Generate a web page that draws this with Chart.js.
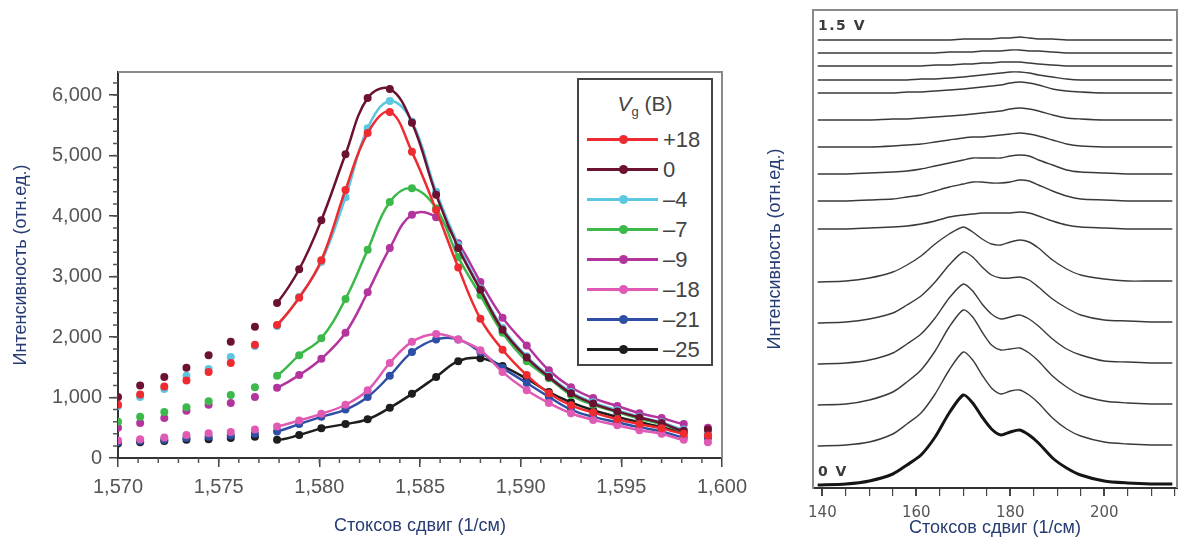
<!DOCTYPE html>
<html>
<head>
<meta charset="utf-8">
<script src="https://cdn.jsdelivr.net/npm/chart.js@4.4.1/dist/chart.umd.min.js"></script>
<style>
    body { margin: 0; background: #fff; }
    #page { position: relative; width: 1192px; height: 543px; overflow: hidden; }
    #leftBox { position: absolute; left: 0; top: 0; width: 760px; height: 543px; }
    #rightBox { position: absolute; left: 760px; top: 0; width: 432px; height: 543px; }
    .legend {
        position: absolute; left: 577px; top: 78px; width: 132px; height: 284px;
        border: 2px solid #454545; background: #fff;
        font-family: 'Liberation Sans Narrow', 'Liberation Sans', Arial, sans-serif; color: #444;
    }
    .legend-title { position: absolute; left: 0; width: 100%; top: 12px; text-align: center; font-size: 21px; }
    .legend-title sub { font-size: 13px; }
    .legend-row { position: absolute; left: 0; width: 100%; height: 30px; }
    .legend-line { position: absolute; left: 8px; width: 71px; top: 13px; height: 3px; }
    .legend-dot { position: absolute; left: 40px; top: 10px; width: 9px; height: 9px; border-radius: 50%; }
    .legend-label { position: absolute; left: 84px; top: 2px; font-size: 22px; }
    .volt { position: absolute; font-family: 'DejaVu Sans', sans-serif; font-size: 14px; font-weight: bold; color: #3a3a3a; letter-spacing: 1.5px; }
</style>
</head>
<body>
<div id="page">
    <div id="leftBox"><canvas id="ramanChart" width="760" height="543"></canvas></div>
    <div id="rightBox"><canvas id="stackChart" width="432" height="543"></canvas></div>
    <div class="legend" id="legend"></div>
    <span class="volt" style="left:818px; top:17px;">1.5 V</span>
    <span class="volt" style="left:818px; top:463px;">0 V</span>
</div>
<script>
// Left panel: Raman shift positions of the measured points (1/см)
const shiftX = [1570.0, 1571.1, 1572.3, 1573.4, 1574.5, 1575.6, 1576.8, 1577.9, 1579.0, 1580.1,
    1581.3, 1582.4, 1583.5, 1584.6, 1585.8, 1586.9, 1588.0, 1589.1, 1590.3, 1591.4,
    1592.5, 1593.6, 1594.8, 1595.9, 1597.0, 1598.1, 1599.3];

// Intensity for each gate voltage
const vgPlus18 = [880, 1050, 1180, 1280, 1420, 1570, 1870, 2200, 2650, 3270, 4430, 5370, 5720, 5060, 4100, 3150, 2300, 1790, 1370, 1070, 870, 750, 640, 560, 490, 400, 370];
const vgZero = [1010, 1200, 1340, 1490, 1700, 1920, 2170, 2560, 3120, 3930, 5020, 5950, 6100, 5540, 4350, 3470, 2780, 2120, 1660, 1340, 1070, 900, 770, 670, 580, 450, 470];
const vgMinus4 = [860, 1010, 1140, 1360, 1470, 1670, 1850, 2180, 2660, 3240, 4310, 5450, 5900, 5560, 4400, 3520, 2800, 2150, 1680, 1360, 1090, 920, 790, 680, 590, 470, 430];
const vgMinus7 = [600, 680, 760, 840, 940, 1040, 1170, 1360, 1700, 1980, 2630, 3440, 4230, 4460, 4130, 3320, 2690, 2070, 1600, 1320, 1040, 880, 760, 650, 560, 440, 410];
const vgMinus9 = [500, 580, 660, 780, 880, 910, 1010, 1160, 1370, 1640, 2070, 2740, 3470, 4020, 3980, 3550, 2910, 2320, 1860, 1450, 1170, 990, 860, 740, 660, 560, 500];
const vgMinus18 = [290, 310, 340, 380, 410, 430, 470, 520, 620, 730, 880, 1120, 1570, 1920, 2050, 1960, 1780, 1420, 1120, 910, 740, 630, 540, 460, 400, 300, 260];
const vgMinus21 = [260, 280, 300, 330, 350, 370, 400, 440, 560, 680, 800, 1010, 1360, 1750, 1960, 1960, 1750, 1490, 1240, 1010, 800, 680, 590, 510, 440, 340, 330];
const vgMinus25 = [240, 260, 280, 300, 310, 330, 350, 300, 380, 490, 560, 640, 830, 1060, 1340, 1600, 1650, 1520, 1310, 1090, 920, 790, 680, 590, 510, 420, 400];

const seriesLabels = ['+18', '0', '–4', '–7', '–9', '–18', '–21', '–25'];
const seriesData = [vgPlus18, vgZero, vgMinus4, vgMinus7, vgMinus9, vgMinus18, vgMinus21, vgMinus25];
const seriesColors = ['#ee2b30', '#6b1233', '#5cc7e1', '#3db94b', '#b4349e', '#e05ab4', '#2f4fa7', '#1d1d1d'];
const fitFirst = 7;   // fitted curve spans these point indices
const fitLast = 25;

const leftYTicks = [0, 1000, 2000, 3000, 4000, 5000, 6000];
const leftXTicks = [1570, 1575, 1580, 1585, 1590, 1595, 1600];

// Right panel: spectra stacked from 1.5 V (top) down to 0 V
const ramanX = [139, 145, 150, 155, 158, 161, 164, 167, 170, 172, 174, 176, 178, 180, 182, 184, 186, 189, 192, 195, 200, 205, 210, 214.5];
const traceOffsets = [448, 435, 422, 408, 395, 368, 341, 314, 287, 259, 206, 165, 124, 83, 42, 3];
const traceHeights = [
    [0, 0, 0, 0, 0, 0, 0, 0, 1, 1, 1, 1, 2, 2, 3, 2, 1, 1, 0, 0, 0, 0, 0, 0],
    [0, 0, 0, 0, 0, 0, 0, 1, 1, 1, 2, 2, 2, 3, 3, 2, 2, 1, 0, 0, 0, 0, 0, 0],
    [0, 0, 0, 0, 0, 0, 1, 1, 2, 2, 3, 3, 4, 4, 4, 3, 2, 1, 0, 0, 0, 0, 0, 0],
    [0, 0, 0, 0, 0, 1, 1, 2, 3, 4, 5, 6, 7, 8, 8, 7, 5, 3, 1, 0, 0, 0, 0, 0],
    [0, 0, 0, 0, 1, 1, 2, 3, 4, 5, 6, 7, 8, 10, 11, 10, 8, 4, 2, 1, 0, 0, 0, 0],
    [0, 0, 0, 1, 1, 2, 3, 4, 5, 6, 7, 8, 9, 11, 12, 11, 9, 5, 2, 1, 0, 0, 0, 0],
    [0, 0, 0, 1, 2, 3, 5, 7, 9, 10, 10, 11, 12, 13, 14, 13, 11, 7, 3, 1, 0, 0, 0, 0],
    [0, 0, 1, 2, 3, 5, 8, 11, 14, 16, 16, 16, 16, 18, 19, 18, 14, 9, 4, 2, 1, 0, 0, 0],
    [0, 0, 1, 2, 4, 6, 10, 14, 17, 19, 19, 18, 18, 19, 21, 20, 16, 10, 5, 2, 1, 0, 0, 0],
    [0, 0, 1, 2, 3, 5, 8, 12, 14, 15, 16, 16, 16, 16, 17, 16, 13, 8, 4, 2, 1, 0, 0, 0],
    [0, 1, 4, 10, 17, 26, 38, 48, 55, 50, 43, 38, 37, 40, 42, 40, 34, 22, 13, 7, 3, 1, 1, 1],
    [0, 1, 4, 10, 18, 27, 41, 58, 71, 66, 56, 48, 45, 45, 46, 43, 36, 24, 15, 8, 3, 2, 1, 1],
    [0, 1, 4, 11, 20, 30, 46, 66, 80, 73, 60, 50, 45, 47, 49, 45, 38, 25, 15, 9, 3, 2, 1, 1],
    [0, 1, 5, 13, 23, 35, 54, 78, 95, 88, 73, 60, 55, 56, 57, 52, 44, 29, 18, 10, 4, 2, 1, 1],
    [0, 1, 4, 12, 22, 33, 52, 76, 94, 86, 71, 58, 52, 55, 56, 51, 43, 28, 17, 10, 4, 2, 1, 1],
    [0, 1, 4, 11, 20, 30, 48, 72, 90, 82, 68, 56, 50, 53, 55, 50, 42, 27, 17, 10, 4, 2, 1, 1]
];
const rightXTicks = [140, 145, 150, 155, 160, 165, 170, 175, 180, 185, 190, 195, 200, 205, 210, 215];
const rightXLabels = [140, 160, 180, 200];

const axisTitleColor = '#283c74';
const titleFont = { family: "'Liberation Sans', Arial, sans-serif", size: 18 };

Chart.defaults.font.family = "'Liberation Sans', Arial, sans-serif";
Chart.defaults.animation = false;

// Frame on the top/right plus short minor ticks drawn through the scales
const framePlugin = {
    id: 'frame',
    afterDraw(chart, args, opts) {
        const { ctx, chartArea: a, scales } = chart;
        ctx.save();
        ctx.strokeStyle = opts.color;
        ctx.lineWidth = opts.width;
        ctx.beginPath();
        ctx.moveTo(a.left, a.top);
        ctx.lineTo(a.right, a.top);
        ctx.lineTo(a.right, a.bottom);
        ctx.stroke();

        (opts.minor || []).forEach(m => {
            const scale = scales[m.axis];
            ctx.strokeStyle = m.color;
            ctx.lineWidth = m.width;
            ctx.beginPath();
            for (let v = m.from; v <= m.to + 1e-9; v += m.step) {
                const p = scale.getPixelForValue(v);
                if (m.axis === 'y') {
                    ctx.moveTo(a.left, p);
                    ctx.lineTo(a.left - m.length, p);
                } else {
                    ctx.moveTo(p, a.bottom);
                    ctx.lineTo(p, a.bottom + m.length);
                }
            }
            ctx.stroke();
        });
        ctx.restore();
    }
};

function buildRamanDatasets() {
    return seriesData.map((values, i) => ({
        label: seriesLabels[i],
        data: values.map((v, k) => ({ x: shiftX[k], y: v })),
        borderColor: seriesColors[i],
        backgroundColor: seriesColors[i],
        borderWidth: 2.5,
        pointRadius: 4,
        pointBorderWidth: 0,
        tension: 0.4,
        segment: {
            borderColor: ctx => (ctx.p0DataIndex >= fitFirst && ctx.p1DataIndex <= fitLast) ? undefined : 'transparent'
        }
    }));
}

function setupRamanChart() {
    const ctx = document.getElementById('ramanChart').getContext('2d');
    return new Chart(ctx, {
        type: 'line',
        data: { datasets: buildRamanDatasets() },
        options: {
            responsive: false,
            layout: { padding: { left: 0, right: 38, top: 72, bottom: 0 } },
            plugins: {
                legend: { display: false },
                tooltip: { enabled: false },
                frame: {
                    color: '#8a8a8a', width: 2,
                    minor: [
                        { axis: 'y', from: 200, to: 6200, step: 200, length: 5, color: '#555', width: 1.5 },
                        { axis: 'x', from: 1571, to: 1599, step: 1, length: 5, color: '#555', width: 1.5 }
                    ]
                }
            },
            scales: {
                x: {
                    type: 'linear',
                    min: 1570,
                    max: 1600,
                    afterBuildTicks: scale => { scale.ticks = leftXTicks.map(v => ({ value: v })); },
                    afterFit: scale => { scale.height = 85; },
                    ticks: {
                        color: '#555', padding: 8, font: { size: 20 },
                        callback: v => v.toLocaleString('en-US'),
                        maxRotation: 0
                    },
                    grid: { drawOnChartArea: false, tickLength: 9, color: '#444', lineWidth: 1.5 },
                    border: { color: '#333', width: 2 },
                    title: { display: true, text: 'Стоксов сдвиг (1/см)', color: axisTitleColor, font: titleFont, padding: { top: 0, bottom: 6 } }
                },
                y: {
                    min: 0,
                    max: 6380,
                    afterBuildTicks: scale => { scale.ticks = leftYTicks.map(v => ({ value: v })); },
                    afterFit: scale => { scale.width = 118; },
                    ticks: {
                        color: '#555', padding: 7, font: { size: 20 },
                        callback: v => v.toLocaleString('en-US')
                    },
                    grid: { drawOnChartArea: false, tickLength: 9, color: '#444', lineWidth: 1.5 },
                    border: { color: '#333', width: 2 },
                    title: { display: true, text: 'Интенсивность (отн.ед.)', color: axisTitleColor, font: titleFont, padding: { top: 10, bottom: 0 } }
                }
            }
        },
        plugins: [framePlugin]
    });
}

function setupStackChart() {
    const ctx = document.getElementById('stackChart').getContext('2d');
    const datasets = traceHeights.map((heights, i) => ({
        label: i === 0 ? '1.5 V' : (i === traceHeights.length - 1 ? '0 V' : ''),
        data: heights.map((h, k) => ({ x: ramanX[k], y: traceOffsets[i] + h })),
        borderColor: i === traceHeights.length - 1 ? '#151515' : '#3a3a3a',
        borderWidth: i === traceHeights.length - 1 ? 3 : 1.4,
        pointRadius: 0,
        tension: 0.25
    }));
    return new Chart(ctx, {
        type: 'line',
        data: { datasets },
        options: {
            responsive: false,
            layout: { padding: { left: 0, right: 15, top: 10, bottom: 0 } },
            plugins: {
                legend: { display: false },
                tooltip: { enabled: false },
                frame: { color: '#8a8a8a', width: 2, minor: [] }
            },
            scales: {
                x: {
                    type: 'linear',
                    min: 138,
                    max: 215.5,
                    afterBuildTicks: scale => { scale.ticks = rightXTicks.map(v => ({ value: v })); },
                    afterFit: scale => { scale.height = 55; },
                    ticks: {
                        color: '#555', padding: 8, maxRotation: 0, autoSkip: false,
                        font: { family: "'DejaVu Sans', sans-serif", size: 15 },
                        callback: v => rightXLabels.includes(v) ? String(v) : ''
                    },
                    grid: {
                        drawOnChartArea: false, tickLength: 8, color: '#444',
                        lineWidth: c => rightXLabels.includes(c.tick && c.tick.value) ? 2 : 1.2
                    },
                    border: { color: '#333', width: 2 },
                    title: { display: true, text: 'Стоксов сдвиг (1/см)', color: axisTitleColor, font: titleFont, padding: { top: 0, bottom: 4 } }
                },
                y: {
                    min: 0,
                    max: 478,
                    afterFit: scale => { scale.width = 53; },
                    ticks: { display: false },
                    grid: { display: false, drawTicks: false },
                    border: { color: '#8a8a8a', width: 2 },
                    title: { display: true, text: 'Интенсивность (отн.ед.)', color: axisTitleColor, font: titleFont, padding: { top: 4, bottom: 0 } }
                }
            }
        },
        plugins: [framePlugin]
    });
}

// HTML legend built from the series arrays
function buildLegend() {
    const box = document.getElementById('legend');
    const title = document.createElement('div');
    title.className = 'legend-title';
    title.innerHTML = '<i>V</i><sub>g</sub> (В)';
    box.appendChild(title);

    seriesLabels.forEach((label, i) => {
        const row = document.createElement('div');
        row.className = 'legend-row';
        row.style.top = (45 + i * 30) + 'px';

        const line = document.createElement('span');
        line.className = 'legend-line';
        line.style.background = seriesColors[i];

        const dot = document.createElement('span');
        dot.className = 'legend-dot';
        dot.style.background = seriesColors[i];

        const text = document.createElement('span');
        text.className = 'legend-label';
        text.textContent = label;

        row.appendChild(line);
        row.appendChild(dot);
        row.appendChild(text);
        box.appendChild(row);
    });
}

buildLegend();
setupRamanChart();
setupStackChart();
</script>
</body>
</html>
